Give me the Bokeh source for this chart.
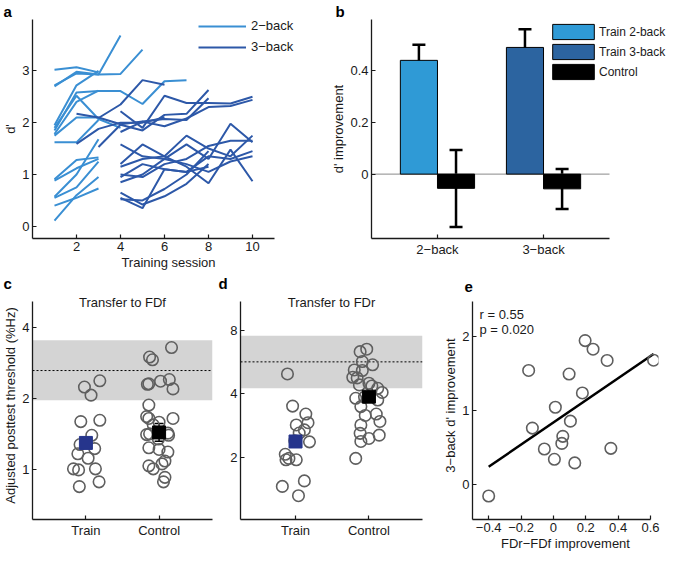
import numpy as np
from bokeh.plotting import figure
from bokeh.layouts import column, row
from bokeh.models import (Range1d, FixedTicker, Legend, LegendItem, Label, BoxAnnotation,
                          Span, Whisker, TeeHead, ColumnDataSource, BasicTickFormatter, Title)
from bokeh.embed import file_html
from bokeh.resources import INLINE

FONT = "Liberation Sans"

# ---------------- panel a: d' per training session ----------------
twoback_sessions = [
    [1, 2, 3], [1, 2, 3, 4, 5], [1, 2, 3, 4], [1, 2, 3], [1, 2, 3, 4, 5, 6, 7],
    [1, 2, 3], [1, 2, 3, 4], [1, 2, 3], [1, 2, 3],
    [1, 2, 3], [1, 2, 3], [1, 2, 3], [1, 2, 3], [1, 2, 3], [1, 2, 3],
]
twoback_dprime = [
    [3.02, 3.07, 2.97], [2.72, 2.95, 2.93, 2.94, 3.41], [2.70, 2.98, 2.93, 3.68],
    [1.95, 2.72, 3.00], [1.85, 2.58, 2.61, 2.61, 2.36, 2.80, 2.82],
    [1.78, 2.40, 2.62], [1.90, 2.52, 2.07, 1.90], [1.62, 1.62, 2.05], [1.75, 2.10, 2.10],
    [0.91, 1.28, 1.33], [0.88, 1.12, 1.30], [0.57, 1.00, 1.68], [0.40, 0.55, 0.73],
    [0.11, 0.60, 0.95], [0.55, 0.75, 1.25],
]
threeback_sessions = [
    [2, 3, 4, 5, 6, 7, 8, 9, 10], [2, 3, 4, 5, 6], [3, 4, 5, 6, 7, 8], [3, 4, 5, 6],
    [4, 5, 6, 7, 8, 9, 10], [4, 5, 6, 7, 8],
    [4, 5, 6, 7, 8, 9, 10], [4, 5, 6, 7, 8, 9, 10], [4, 5, 6, 7, 8, 9, 10],
    [4, 5, 6, 7, 8, 9, 10], [4, 5, 6, 7, 8, 9, 10], [4, 5, 6, 7, 8, 9, 10],
    [4, 5, 6, 7, 8], [4, 5, 6, 7, 8], [4, 5, 6, 7, 8],
]
threeback_dprime = [
    [2.17, 2.10, 1.97, 2.02, 1.93, 2.08, 2.30, 2.32, 2.44],
    [1.59, 1.88, 2.00, 2.00, 2.10],
    [1.53, 1.96, 1.85, 2.15, 2.17, 2.63],
    [2.09, 2.35, 2.82, 2.73],
    [2.22, 1.90, 2.52, 2.38, 2.38, 2.37, 2.50],
    [1.82, 2.02, 2.07, 2.05, 2.47],
    [1.58, 1.35, 1.30, 1.58, 1.30, 1.98, 1.62],
    [1.20, 1.58, 1.35, 1.15, 0.83, 1.48, 0.87],
    [1.15, 1.30, 1.35, 1.75, 1.50, 1.35, 1.75],
    [1.00, 0.95, 1.20, 1.30, 1.55, 1.65, 1.65],
    [0.95, 1.20, 1.10, 1.05, 1.35, 1.30, 1.45],
    [0.85, 1.00, 1.30, 1.20, 1.05, 1.25, 1.35],
    [0.65, 0.42, 0.58, 0.82, 1.20],
    [0.55, 0.35, 1.10, 1.05, 1.15],
    [0.52, 0.50, 0.72, 1.00, 1.45],
]
a_xlim = (0, 11)
a_ylim = (-0.235, 3.99)
a_xticks = [2, 4, 6, 8, 10]
a_yticks = [0, 1, 2, 3]

# ---------------- panel b: d' improvement ----------------
b_groups = ["2\u2212back", "3\u2212back"]
b_train_mean = [0.44, 0.49]
b_train_lo = [0.38, 0.415]
b_train_hi = [0.50, 0.56]
b_ctrl_mean = [-0.055, -0.057]
b_ctrl_lo = [-0.205, -0.135]
b_ctrl_hi = [0.093, 0.020]
b_xlim = (0.378, 2.622)
b_ylim = (-0.249, 0.598)
b_yticks = [0, 0.2, 0.4]

# ---------------- panel c: transfer to FDf ----------------
cd_groups = ["Train", "Control"]
c_train_x = [0.98, 1.19, 1.07, 0.93, 1.19, 1.08, 0.92, 1.12, 0.89, 1.03, 0.83, 0.90, 1.13, 1.18, 0.91]
c_train_y = [2.24, 2.38, 2.07, 1.60, 1.62, 1.40, 1.28, 1.23, 1.17, 1.12, 1.01, 1.00, 1.01, 0.89, 0.85]
c_ctrl_x = [1.91, 2.17, 1.87, 1.86, 1.84, 2.02, 2.14, 2.19, 1.86, 1.83, 1.86, 2.19, 2.00, 1.92,
            1.83, 1.87, 2.12, 2.13, 1.99, 1.86, 2.00, 2.12, 2.08, 1.86, 1.92, 2.04, 2.08, 2.06]
c_ctrl_y = [2.92, 3.29, 3.00, 2.31, 2.30, 2.37, 2.41, 2.20, 1.88, 1.68, 1.65, 1.65, 1.59, 1.55,
            1.41, 1.42, 1.43, 1.40, 1.35, 1.24, 1.22, 1.19, 1.09, 1.04, 1.01, 1.06, 0.93, 0.89]
c_means = [1.30, 1.44]
c_lo = [1.24, 1.32]
c_hi = [1.37, 1.57]
c_band = [1.97, 3.53]
c_ref = 2.63
c_xlim = (0.27, 2.73)
c_ylim = (0.617, 5.15)
c_yticks = [1, 2, 4]

# ---------------- panel d: transfer to FDr ----------------
d_train_x = [0.89, 0.96, 1.14, 1.17, 1.01, 1.12, 1.05, 1.19, 0.99, 0.86, 0.91, 0.87, 1.01, 0.82, 1.12, 1.04]
d_train_y = [4.96, 3.49, 3.20, 2.91, 2.84, 2.69, 2.60, 2.36, 2.39, 2.06, 1.97, 1.94, 1.94, 1.45, 1.54, 1.31]
d_ctrl_x = [1.88, 1.97, 1.91, 2.05, 1.80, 1.91, 1.78, 1.84, 1.87, 2.00, 2.04, 2.12, 2.18, 1.82,
            1.94, 2.12, 1.89, 1.95, 2.10, 2.15, 1.89, 1.88, 1.89, 2.00, 2.14, 1.82]
d_ctrl_y = [6.33, 6.50, 5.68, 5.48, 5.18, 5.15, 4.78, 4.75, 4.40, 4.48, 4.35, 4.24, 4.05, 3.80,
            3.85, 3.73, 3.47, 3.15, 3.20, 2.95, 2.84, 2.59, 2.37, 2.45, 2.54, 1.97]
d_means = [2.37, 3.87]
d_lo = [2.25, 3.70]
d_hi = [2.50, 4.05]
d_band = [4.24, 7.52]
d_ref = 5.66
d_xlim = (0.25, 2.73)
d_ylim = (1.01, 10.95)
d_yticks = [2, 4, 8]

# ---------------- panel e: correlation ----------------
e_x = [-0.40, -0.153, -0.13, -0.056, 0.006, 0.012, 0.052, 0.058, 0.097, 0.105, 0.132,
       0.179, 0.196, 0.245, 0.332, 0.355, 0.619]
e_y = [-0.152, 1.547, 0.767, 0.484, 0.345, 1.049, 0.56, 0.655, 1.498, 0.861, 0.296,
       1.242, 1.951, 1.834, 1.682, 0.493, 1.686]
e_xlim = (-0.5, 0.6)
e_ylim = (-0.47, 2.48)
e_xticks = [-0.4, -0.2, 0, 0.2, 0.4, 0.6]
e_yticks = [0, 1, 2]
e_stats = ["r = 0.55", "p = 0.020"]

# colours
C2 = "#3a8fd3"
C3 = "#2d58a8"
BAR2 = "#2f9ad6"
BAR3 = "#2c64a0"
NAVY = "#26358c"
AX = "#1a1a1a"
CIRC = "#5f5f5f"
BAND = "#d4d4d4"

# layout (px)
TOP_T, TOP_FH, TOP_B = 18, 219, 32
BOT_T, BOT_FH, BOT_B = 18, 228, 30
EXT = 10  # frame above the axis top in lower row (room for titles)


def extend(lo, hi, axis_px, extra_px, log=False):
    """range end that leaves extra_px of frame beyond an axis of axis_px"""
    if log:
        a, b = np.log10(lo), np.log10(hi)
        return float(10 ** (b + (b - a) * extra_px / axis_px))
    return hi + (hi - lo) * extra_px / axis_px


def mk(fw, fh, xr, yr, left, right, top, bottom, y_type="linear"):
    p = figure(frame_width=fw, frame_height=fh, x_range=xr, y_range=yr, y_axis_type=y_type,
               output_backend="svg", toolbar_location=None,
               min_border_left=left, min_border_right=right,
               min_border_top=top, min_border_bottom=bottom)
    p.outline_line_color = None
    p.xgrid.visible = False
    p.ygrid.visible = False
    p.background_fill_color = "white"
    p.border_fill_color = "white"
    for ax in p.axis:
        ax.axis_line_color = AX
        ax.axis_line_width = 1.3
        ax.major_tick_line_color = AX
        ax.major_tick_line_width = 1.2
        ax.major_tick_in = 4
        ax.major_tick_out = 0
        ax.minor_tick_line_color = None
        ax.major_label_text_font = FONT
        ax.major_label_text_font_size = "13px"
        ax.major_label_text_color = AX
        ax.axis_label_text_font = FONT
        ax.axis_label_text_font_style = "normal"
        ax.axis_label_text_font_size = "13px"
        ax.axis_label_text_color = AX
        ax.major_label_standoff = 3
        ax.axis_label_standoff = 1
    return p


def letter(p, txt, off):
    p.add_layout(Title(text=txt, align="left", offset=off, text_font=FONT,
                       text_font_style="bold", text_font_size="15px", text_color="black",
                       standoff=0), "above")


# ---------------- a ----------------
A_AXIS = 242
A_EXTRA = 30
pa = mk(A_AXIS + A_EXTRA, TOP_FH,
        Range1d(a_xlim[0], extend(a_xlim[0], a_xlim[1], A_AXIS, A_EXTRA)),
        Range1d(*a_ylim), 30, 326 - 30 - A_AXIS - A_EXTRA, TOP_T, TOP_B)
pa.xaxis.bounds = a_xlim
r2 = pa.multi_line(xs=twoback_sessions, ys=twoback_dprime, line_color=C2, line_width=2)
r3 = pa.multi_line(xs=threeback_sessions, ys=threeback_dprime, line_color=C3, line_width=2)
pa.xaxis.ticker = FixedTicker(ticks=a_xticks)
pa.yaxis.ticker = FixedTicker(ticks=a_yticks)
pa.xaxis.axis_label = "Training session"
pa.yaxis.axis_label = "d'"
leg_a = Legend(items=[LegendItem(label="2\u2212back", renderers=[r2]),
                      LegendItem(label="3\u2212back", renderers=[r3])],
               location=(166, TOP_FH - 35), glyph_width=48, glyph_height=14, label_height=14,
               spacing=6, padding=0, margin=0, label_standoff=5,
               border_line_color=None, background_fill_alpha=0,
               label_text_font=FONT, label_text_font_size="13px", label_text_color=AX)
pa.add_layout(leg_a)
letter(pa, "a", -29)

# ---------------- b ----------------
bar_w = 0.35
b_idx = np.arange(1, len(b_groups) + 1)
B_AXIS = 238
B_EXTRA = 337 - 40 - 1 - B_AXIS
pb = mk(B_AXIS + B_EXTRA, TOP_FH,
        Range1d(b_xlim[0], extend(b_xlim[0], b_xlim[1], B_AXIS, B_EXTRA)),
        Range1d(*b_ylim), 40, 1, TOP_T, TOP_B)
pb.xaxis.bounds = b_xlim
pb.line(x=list(b_xlim), y=[0, 0], line_color="#8a8a8a", line_width=1)
rb2 = pb.vbar(x=[b_idx[0] - bar_w / 2], top=[b_train_mean[0]], width=bar_w,
              fill_color=BAR2, line_color="black", line_width=1)
rb3 = pb.vbar(x=[b_idx[1] - bar_w / 2], top=[b_train_mean[1]], width=bar_w,
              fill_color=BAR3, line_color="black", line_width=1)
rbc = pb.vbar(x=b_idx + bar_w / 2, top=b_ctrl_mean, width=bar_w,
              fill_color="black", line_color="black", line_width=1)
err_src = ColumnDataSource(dict(
    x=list(b_idx - bar_w / 2) + list(b_idx + bar_w / 2),
    lo=b_train_lo + b_ctrl_lo, hi=b_train_hi + b_ctrl_hi))
pb.add_layout(Whisker(base="x", lower="lo", upper="hi", source=err_src,
                      line_color="black", line_width=2.5,
                      upper_head=TeeHead(size=13, line_width=2.5, line_color="black"),
                      lower_head=TeeHead(size=13, line_width=2.5, line_color="black")))
pb.xaxis.ticker = FixedTicker(ticks=list(b_idx))
pb.xaxis.major_label_overrides = {int(i): g for i, g in zip(b_idx, b_groups)}
pb.yaxis.ticker = FixedTicker(ticks=b_yticks)
pb.yaxis.major_label_overrides = {0: "0", 0.2: "0.2", 0.4: "0.4"}
pb.yaxis.axis_label = "d' improvement"
leg_b = Legend(items=[LegendItem(label="Train 2-back", renderers=[rb2]),
                      LegendItem(label="Train 3-back", renderers=[rb3]),
                      LegendItem(label="Control", renderers=[rbc])],
               location=(176, TOP_FH - 3 - 59), glyph_width=52, glyph_height=19, label_height=19,
               spacing=1, padding=0, margin=0, label_standoff=0,
               border_line_color=None, background_fill_alpha=0,
               label_text_font=FONT, label_text_font_size="12px", label_text_color=AX)
pb.add_layout(leg_b)
letter(pb, "b", -36)


# ---------------- c & d ----------------
def transfer(fw, left, right, xlim, ylim, tx, ty, cx, cy, means, lo, hi, band, ref, yticks, title):
    top = extend(ylim[0], ylim[1], BOT_FH - EXT, EXT, log=True)
    p = mk(fw, BOT_FH, Range1d(*xlim), Range1d(ylim[0], top), left, right, BOT_T, BOT_B,
           y_type="log")
    p.yaxis.bounds = ylim
    p.add_layout(BoxAnnotation(bottom=band[0], top=band[1], fill_color=BAND, fill_alpha=1,
                               line_color=None, level="underlay"))
    p.add_layout(Span(location=ref, dimension="width", line_color="black", line_width=1,
                      line_dash="2 2", level="underlay"))
    p.scatter(tx, ty, marker="circle", size=11.5, fill_color=None, line_color=CIRC, line_width=1.6)
    p.scatter(cx, cy, marker="circle", size=11.5, fill_color=None, line_color=CIRC, line_width=1.6)
    idx = [1, 2]
    src = ColumnDataSource(dict(x=idx, lo=lo, hi=hi))
    p.add_layout(Whisker(base="x", lower="lo", upper="hi", source=src, line_color="black",
                         line_width=1.5,
                         upper_head=TeeHead(size=9, line_width=1.5, line_color="black"),
                         lower_head=TeeHead(size=9, line_width=1.5, line_color="black")))
    p.scatter(idx, means, marker="square", size=13, fill_color=[NAVY, "black"],
              line_color=[NAVY, "black"])
    p.xaxis.ticker = FixedTicker(ticks=idx)
    p.xaxis.major_label_overrides = {1: cd_groups[0], 2: cd_groups[1]}
    p.yaxis.ticker = FixedTicker(ticks=yticks)
    p.yaxis.formatter = BasicTickFormatter()
    p.add_layout(Label(x=fw / 2, y=BOT_FH - EXT - 1, x_units="screen",
                       y_units="screen", text=title, text_font=FONT, text_font_size="13px",
                       text_align="center", text_baseline="middle", text_color=AX))
    return p


pc = transfer(180, 30, 4, c_xlim, c_ylim, c_train_x, c_train_y, c_ctrl_x, c_ctrl_y,
              c_means, c_lo, c_hi, c_band, c_ref, c_yticks, "Transfer to FDf")
pc.yaxis.axis_label = "Adjusted posttest threshold (%Hz)"
letter(pc, "c", -29)

pd = transfer(182, 24, 12, d_xlim, d_ylim, d_train_x, d_train_y, d_ctrl_x, d_ctrl_y,
              d_means, d_lo, d_hi, d_band, d_ref, d_yticks, "Transfer to FDr")
letter(pd, "d", -22)

# ---------------- e ----------------
E_AXIS = 178
E_EXTRA = 8
pe = mk(E_AXIS + E_EXTRA, BOT_FH,
        Range1d(e_xlim[0], extend(e_xlim[0], e_xlim[1], E_AXIS, E_EXTRA)),
        Range1d(e_ylim[0], extend(e_ylim[0], e_ylim[1], BOT_FH - EXT, EXT)),
        38, 231 - 38 - E_AXIS - E_EXTRA, BOT_T, BOT_B)
pe.xaxis.bounds = e_xlim
pe.yaxis.bounds = e_ylim
ex = np.array(e_x)
ey = np.array(e_y)
slope, icpt = np.polyfit(ex, ey, 1)
fx = np.array([ex.min(), ex.max()])
pe.line(fx, slope * fx + icpt, line_color="black", line_width=2.5)
pe.scatter(e_x, e_y, marker="circle", size=11.5, fill_color=None, line_color=CIRC, line_width=1.6)
pe.xaxis.ticker = FixedTicker(ticks=e_xticks)
pe.xaxis.major_label_overrides = {-0.4: "\u22120.4", -0.2: "\u22120.2", 0: "0",
                                  0.2: "0.2", 0.4: "0.4", 0.6: "0.6"}
pe.yaxis.ticker = FixedTicker(ticks=e_yticks)
pe.xaxis.axis_label = "FDr\u2212FDf improvement"
pe.yaxis.axis_label = "3\u2212back d' improvement"
for i, s in enumerate(e_stats):
    pe.add_layout(Label(x=7, y=BOT_FH - EXT - 5 - 15 * i, x_units="screen", y_units="screen",
                        text=s, text_font=FONT, text_font_size="13px", text_baseline="top",
                        text_color=AX))
letter(pe, "e", -8)

layout = column(row(pa, pb), row(pc, pd, pe))
open("out.html", "w").write(file_html(layout, INLINE))
